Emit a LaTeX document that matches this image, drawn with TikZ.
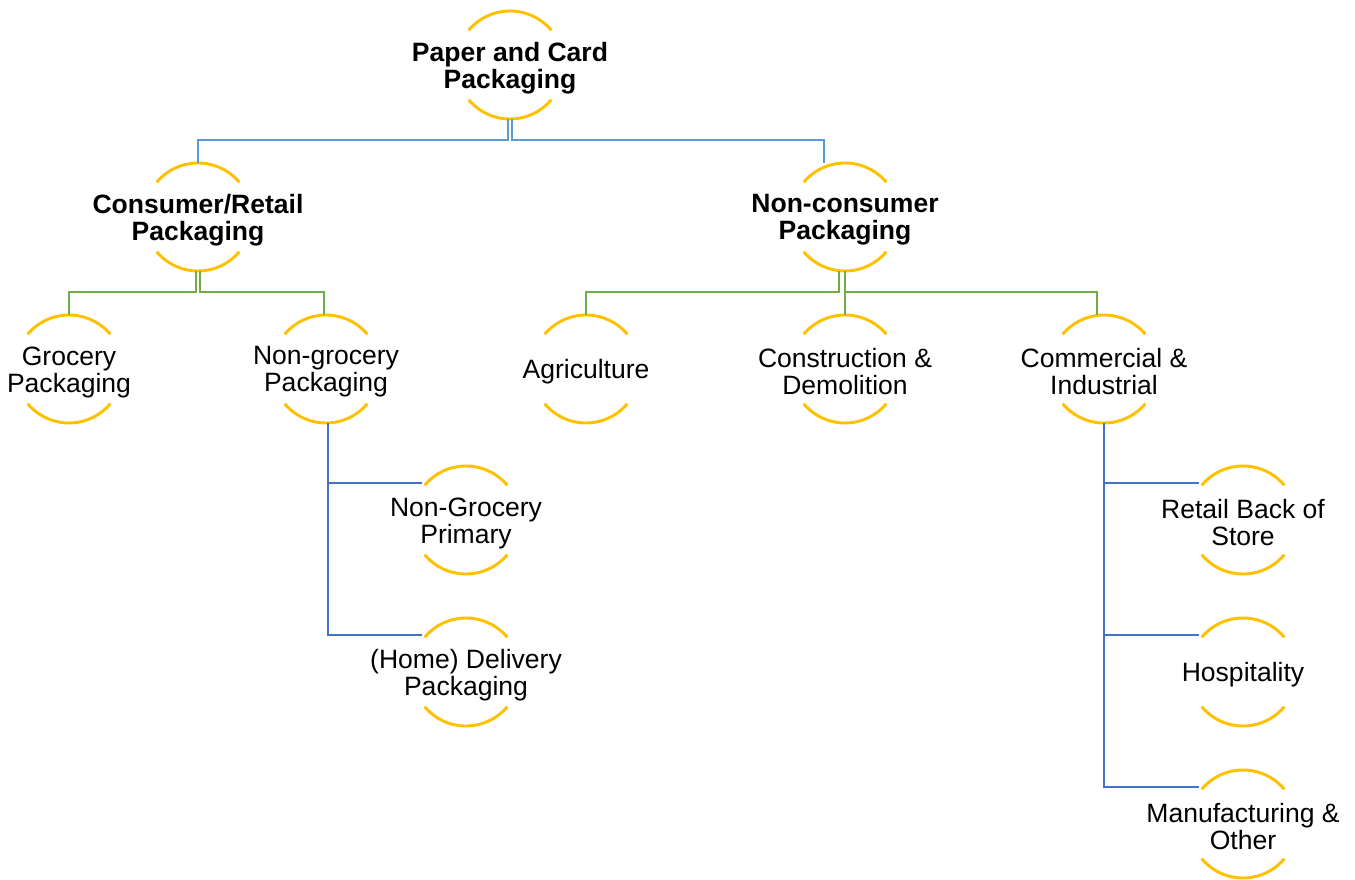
\documentclass[tikz,border=0pt]{standalone}
\usepackage{fontspec}
\setmainfont{Liberation Sans}
\definecolor{arcgold}{HTML}{FFC000}
\definecolor{lineA}{HTML}{5B9BD5}
\definecolor{lineB}{HTML}{70AD47}
\definecolor{lineC}{HTML}{4472C4}
\tikzset{
  ring/.style={circle, minimum size=81pt, inner sep=0pt, draw=none},
  htext/.style={align=center, inner sep=0pt,
    font=\fontsize{19.9pt}{20.25pt}\selectfont},
  hbold/.style={htext, font=\fontsize{19.9pt}{20.25pt}\selectfont\bfseries},
  arcline/.style={draw=arcgold, line width=2.2pt},
  connA/.style={draw=lineA, line width=1.6pt},
  connB/.style={draw=lineB, line width=1.6pt},
  connC/.style={draw=lineC, line width=1.7pt},
}
\begin{document}
\begin{tikzpicture}[x=0.75pt,y=-0.75pt]
\useasboundingbox (0,0) rectangle (1355,880);
% rings (circle frames)
\node[ring] (root) at (510,65) {};
\node[ring] (cons) at (198,217) {};
\node[ring] (noncons) at (845,217) {};
\node[ring] (groc) at (69,369) {};
\node[ring] (nongroc) at (326,369) {};
\node[ring] (agri) at (586,369) {};
\node[ring] (constr) at (845,369) {};
\node[ring] (comm) at (1104,369) {};
\node[ring] (ngp) at (466,520) {};
\node[ring] (hd) at (466,672) {};
\node[ring] (rbs) at (1243,520) {};
\node[ring] (hosp) at (1243,672) {};
\node[ring] (mfg) at (1243,824) {};
% texts
\node[hbold] (rootT) at ([yshift=-2.25pt]root.center) {Paper and Card\\Packaging};
\node[hbold] (consT) at ([yshift=-2.25pt]cons.center) {Consumer/Retail\\Packaging};
\node[hbold] (nonconsT) at ([yshift=-2.25pt]noncons.center) {Non-consumer\\Packaging};
\node[htext] (grocT) at ([yshift=-2.25pt]groc.center) {Grocery\\Packaging};
\node[htext] (nongrocT) at ([yshift=-2.25pt]nongroc.center) {Non-grocery\\Packaging};
\node[htext] (agriT) at ([yshift=-2.25pt]agri.center) {Agriculture};
\node[htext] (constrT) at ([yshift=-2.25pt]constr.center) {Construction \&\\Demolition};
\node[htext] (commT) at ([yshift=-2.25pt]comm.center) {Commercial \&\\Industrial};
\node[htext] (ngpT) at ([yshift=-2.25pt]ngp.center) {Non-Grocery\\Primary};
\node[htext] (hdT) at ([yshift=-2.25pt]hd.center) {(Home) Delivery\\Packaging};
\node[htext] (rbsT) at ([yshift=-2.25pt]rbs.center) {Retail Back of\\Store};
\node[htext] (hospT) at ([yshift=-2.25pt]hosp.center) {Hospitality};
\node[htext] (mfgT) at ([yshift=-2.25pt]mfg.center) {Manufacturing \&\\Other};
% arcs
\foreach \n in {root,cons,noncons,groc,nongroc,agri,constr,comm,ngp,hd,rbs,hosp,mfg}{
  \draw[arcline] ([shift={(140:40.5pt)}]\n.center) arc[start angle=140,end angle=40,radius=40.5pt];
  \draw[arcline] ([shift={(220:40.5pt)}]\n.center) arc[start angle=220,end angle=320,radius=40.5pt];
}
% level 1 connectors
\draw[connA] ([xshift=-1.4pt]root.south) -- ++(0,21) -| (cons.north);
\draw[connA] ([xshift=1.4pt]root.south) -- ++(0,21) -| ([xshift=-15.75pt]noncons.north);
% level 2 connectors
\draw[connB] ([xshift=-1.4pt]cons.south) -- ++(0,21) -| (groc.north);
\draw[connB] ([xshift=1.4pt]cons.south) -- ++(0,21) -| ([xshift=-1.5pt]nongroc.north);
\draw[connB] ([xshift=-4.5pt]noncons.south) -- ++(0,21) -| (agri.north);
\draw[connB] (noncons.south) -- (constr.north);
\draw[connB] (noncons.south) -- ++(0,21) -| ([xshift=-5.25pt]comm.north);
% level 3 connectors
\draw[connC] ([xshift=1.5pt]nongroc.south) |- ([shift={(-1.5pt,1.5pt)}]ngp.140);
\draw[connC] ([xshift=1.5pt]nongroc.south) |- ([shift={(-1.5pt,1.5pt)}]hd.140);
\draw[connC] (comm.south) |- ([shift={(-1.5pt,1.5pt)}]rbs.140);
\draw[connC] (comm.south) |- ([shift={(-1.5pt,1.5pt)}]hosp.140);
\draw[connC] (comm.south) |- ([shift={(-1.5pt,1.5pt)}]mfg.140);
\end{tikzpicture}
\end{document}
